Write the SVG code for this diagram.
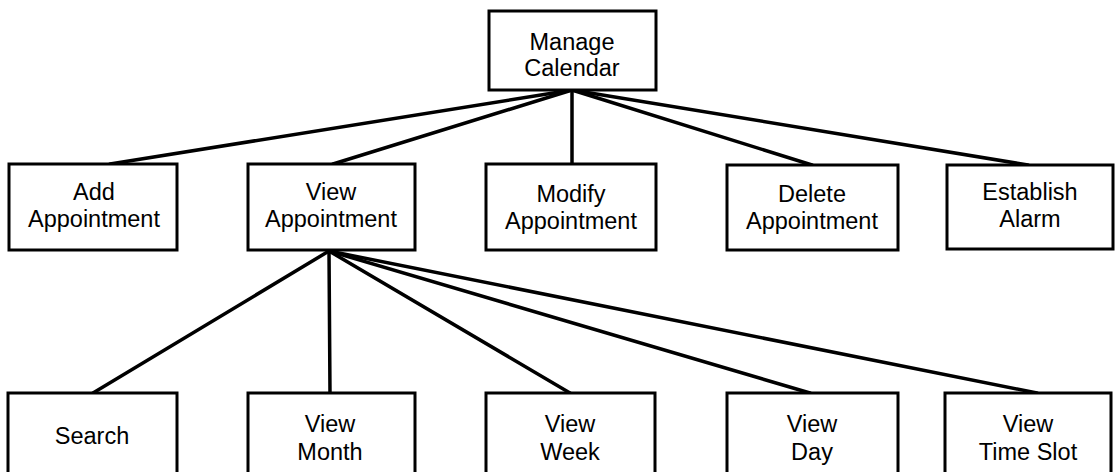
<svg xmlns="http://www.w3.org/2000/svg" width="1115" height="472" viewBox="0 0 1115 472">
<style>
.box{fill:#fff;stroke:#000;stroke-width:3}
.lbl{font-family:"Liberation Sans",Arial,sans-serif;font-size:23.5px;fill:#000;text-anchor:middle}
.conn{stroke:#000;stroke-width:3.5;stroke-linecap:round;fill:none}
</style>
<rect width="1115" height="472" fill="#fff"/>
<g id="connectors">
<line class="conn" x1="572" y1="90" x2="110" y2="164"/>
<line class="conn" x1="572" y1="90" x2="333" y2="164"/>
<line class="conn" x1="572" y1="90" x2="572" y2="164"/>
<line class="conn" x1="572" y1="90" x2="812" y2="165"/>
<line class="conn" x1="572" y1="90" x2="1028" y2="165"/>
<line class="conn" x1="329" y1="251" x2="93" y2="393"/>
<line class="conn" x1="329" y1="251" x2="330" y2="393"/>
<line class="conn" x1="329" y1="251" x2="570" y2="393"/>
<line class="conn" x1="329" y1="251" x2="810" y2="393"/>
<line class="conn" x1="329" y1="251" x2="1037" y2="393"/>
</g>
<g id="manage-calendar">
<rect class="box" x="489" y="11" width="167" height="79"/>
<text class="lbl" x="572" y="50">Manage</text>
<text class="lbl" x="572" y="76">Calendar</text>
</g>
<g id="add-appointment">
<rect class="box" x="9" y="164" width="168" height="86"/>
<text class="lbl" x="94" y="200">Add</text>
<text class="lbl" x="94" y="227">Appointment</text>
</g>
<g id="view-appointment">
<rect class="box" x="248" y="164" width="167" height="86"/>
<text class="lbl" x="331" y="200">View</text>
<text class="lbl" x="331" y="227">Appointment</text>
</g>
<g id="modify-appointment">
<rect class="box" x="486" y="164" width="170" height="86"/>
<text class="lbl" x="571" y="202">Modify</text>
<text class="lbl" x="571" y="229">Appointment</text>
</g>
<g id="delete-appointment">
<rect class="box" x="727" y="165" width="171" height="85"/>
<text class="lbl" x="812" y="202">Delete</text>
<text class="lbl" x="812" y="229">Appointment</text>
</g>
<g id="establish-alarm">
<rect class="box" x="947" y="165" width="166" height="84"/>
<text class="lbl" x="1030" y="200">Establish</text>
<text class="lbl" x="1030" y="227">Alarm</text>
</g>
<g id="search">
<rect class="box" x="8" y="393" width="169" height="100"/>
<text class="lbl" x="92" y="444">Search</text>
</g>
<g id="view-month">
<rect class="box" x="248" y="393" width="167" height="100"/>
<text class="lbl" x="330" y="432">View</text>
<text class="lbl" x="330" y="460">Month</text>
</g>
<g id="view-week">
<rect class="box" x="486" y="393" width="169" height="100"/>
<text class="lbl" x="570" y="432">View</text>
<text class="lbl" x="570" y="460">Week</text>
</g>
<g id="view-day">
<rect class="box" x="727" y="393" width="171" height="100"/>
<text class="lbl" x="812" y="432">View</text>
<text class="lbl" x="812" y="460">Day</text>
</g>
<g id="view-time-slot">
<rect class="box" x="945" y="393" width="166" height="100"/>
<text class="lbl" x="1028" y="432">View</text>
<text class="lbl" x="1028" y="460">Time Slot</text>
</g>
</svg>
